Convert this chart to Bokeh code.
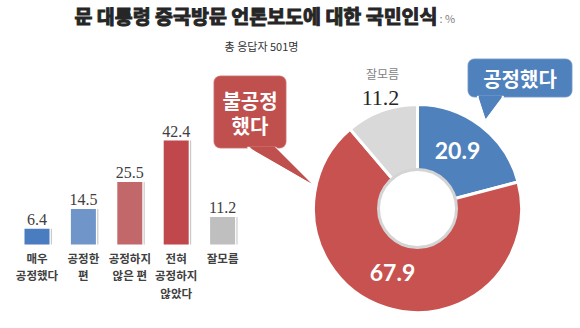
import numpy as np
from bokeh.plotting import figure
from bokeh.models import Range1d, BoxAnnotation, ColumnDataSource
from bokeh.transform import dodge
from bokeh.core.properties import value
from bokeh.embed import file_html
from bokeh.resources import INLINE

# ---- data ----
bar_labels = ["매우\n공정했다", "공정한\n편", "공정하지\n않은 편", "전혀\n공정하지\n않았다", "잘모름"]
bar_values = [6.4, 14.5, 25.5, 42.4, 11.2]
bar_colors = ["#4a7dbf", "#6f95c9", "#c2686b", "#c0474b", "#bfbfbf"]

pie_labels = ["공정했다", "불공정했다", "잘모름"]
pie_values = [20.9, 67.9, 11.2]
pie_colors = ["#4f81bd", "#c85250", "#d9d9d9"]

title_text = "문 대통령 중국방문 언론보도에 대한 국민인식"
unit_text = ": %"
subtitle_text = "총 응답자 501명"

W, H = 580, 328
KR = value("Noto Sans CJK KR")

p = figure(width=W, height=H, output_backend="svg", toolbar_location=None,
           x_range=Range1d(0, W), y_range=Range1d(0, H), min_border=0)
p.axis.visible = False
p.grid.visible = False
p.outline_line_color = None
p.background_fill_color = "white"

def Y(py):
    return H - py

# ---- titles ----
p.text(x=[437], y=[Y(15)], text=[title_text], text_font=KR, text_font_style="bold",
       text_font_size="19.5px", text_align="right", text_baseline="middle", text_color="#262626",
       text_outline_color="#262626")
p.text(x=[439], y=[Y(17)], text=[unit_text], text_font=KR, text_font_size="11px",
       text_align="left", text_baseline="middle", text_color="#808080")
p.text(x=[261], y=[Y(45)], text=[subtitle_text], text_font=KR, text_font_size="11px",
       text_align="center", text_baseline="middle", text_color="#333333")

# ---- bar chart on its own scales ----
px_per_cat = 46.4
px_per_unit = 2.45
first_center_px = 36.5
base_px = 244
x0 = -first_center_px / px_per_cat
p.extra_x_ranges = {"bx": Range1d(x0, x0 + W / px_per_cat)}
y0 = -(H - base_px) / px_per_unit
p.extra_y_ranges = {"by": Range1d(y0, y0 + H / px_per_unit)}

bsrc = ColumnDataSource(dict(x=list(range(len(bar_values))), v=bar_values, c=bar_colors,
                             lab=bar_labels, t=[f"{v:.1f}" for v in bar_values],
                             z=[0] * len(bar_values)))
p.vbar(x=dodge("x", 0.31), top="v", width=0.025,
       source=bsrc, x_range_name="bx", y_range_name="by", fill_color="#c9c9c9", line_color=None)
p.vbar(x="x", top="v", width=25 / px_per_cat, source=bsrc, x_range_name="bx", y_range_name="by",
       fill_color="c", line_color=None)
p.text(x="x", y="v", text="t", source=bsrc, x_range_name="bx", y_range_name="by",
       text_font=value("Liberation Serif"), text_font_size="16px", text_align="center",
       text_baseline="bottom", y_offset=-4, text_color="#404040")
p.text(x="x", y="z", text="lab", source=bsrc, x_range_name="bx", y_range_name="by",
       text_font=KR, text_font_style="bold", text_font_size="11.5px", text_align="center",
       text_baseline="top", y_offset=5, text_line_height=1.12, text_color="#404040")

# ---- donut ----
cx, cy = 417, Y(208)
r_out, r_in = 104, 38
fr = np.array(pie_values) / sum(pie_values)
ends = np.pi / 2 - 2 * np.pi * np.cumsum(fr)
starts = np.concatenate([[np.pi / 2], ends[:-1]])
dsrc = ColumnDataSource(dict(s=starts, e=ends, c=pie_colors, x=[cx] * 3, y=[cy] * 3))
p.annular_wedge(x="x", y="y", inner_radius=r_in, outer_radius=r_out, start_angle="s", end_angle="e",
                direction="clock", fill_color="c", line_color="white", line_width=3, source=dsrc)
p.circle(x=[cx], y=[cy], radius=r_in + 1, fill_color="white", line_color="#d4d4d4", line_width=3)

p.text(x=[457, 392], y=[Y(150), Y(272)], text=[f"{pie_values[0]:.1f}", f"{pie_values[1]:.1f}"],
       text_font=value("Lato"), text_font_style="bold", text_font_size="23px", text_align="center",
       text_baseline="middle", text_color="white")
p.text(x=[380], y=[Y(97)], text=[f"{pie_values[2]:.1f}"], text_font=value("Liberation Serif"),
       text_font_size="22px", text_align="center", text_baseline="middle", text_color="#262626")
p.text(x=[382], y=[Y(73)], text=[pie_labels[2]], text_font=KR, text_font_size="12px",
       text_align="center", text_baseline="middle", text_color="#7f7f7f")

# ---- callouts ----
# blue
p.add_layout(BoxAnnotation(left=467, right=572, bottom=Y(97), top=Y(58), fill_color=pie_colors[0],
                           fill_alpha=1, line_color="white", line_width=1.5, border_radius=7, level="underlay"))
p.patch(x=[477, 503, 485], y=[Y(96), Y(96), Y(120)], fill_color=pie_colors[0], line_color="white", line_width=1.5)
p.patch(x=[478, 502, 485], y=[Y(95), Y(95), Y(118)], fill_color=pie_colors[0], line_color=None)
p.text(x=[519.5], y=[Y(78)], text=[pie_labels[0]], text_font=KR, text_font_style="bold",
       text_font_size="20px", text_align="center", text_baseline="middle", text_color="white")
# red
red = "#c0504d"
p.add_layout(BoxAnnotation(left=213, right=286, bottom=Y(148), top=Y(75), fill_color=red,
                           fill_alpha=1, line_color="white", line_width=1.5, border_radius=7, level="underlay"))
p.patch(x=[247, 275, 313], y=[Y(147), Y(147), Y(185)], fill_color=red, line_color="white", line_width=1.5)
p.patch(x=[248, 274, 311], y=[Y(146), Y(146), Y(183)], fill_color=red, line_color=None)
p.text(x=[249.5, 249.5], y=[Y(100), Y(125)], text=["불공정", "했다"], text_font=KR, text_font_style="bold",
       text_font_size="20px", text_align="center", text_baseline="middle", text_color="white")

open("out.html", "w").write(file_html(p, INLINE))
